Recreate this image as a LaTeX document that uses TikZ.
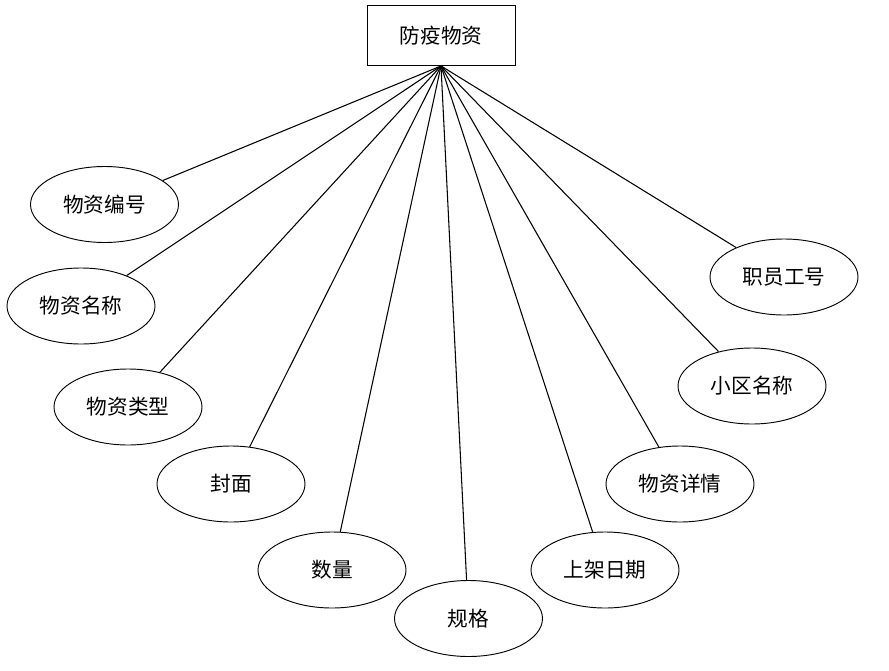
\documentclass[tikz,border=0pt]{standalone}
\usepackage{fontspec}
\newfontfamily\cjk{Noto Sans CJK SC}
\usepackage{tikz}
\usetikzlibrary{shapes.geometric}

\begin{document}
\begin{tikzpicture}[
      x=0.75pt, y=-0.75pt,
      font=\cjk\fontsize{15.5}{18}\selectfont,
      entity/.style={draw, line width=0.7pt, minimum width=111pt, minimum height=45pt, inner sep=0pt},
      attr/.style={draw, ellipse, line width=0.7pt, minimum width=111pt, minimum height=57pt, inner sep=0pt},
      link/.style={line width=0.8pt}
    ]
    \useasboundingbox (0,0) rectangle (889,671);

    % Entity
    \node[entity] (fywz) at (441,35.5) {防疫物资};
    \coordinate (apex) at (fywz.south);

    % Attributes
    \node[attr] (bh)   at (104.5,204.5) {物资编号};
    \node[attr] (mc)   at (81,306)      {物资名称};
    \node[attr] (lx)   at (128,407)     {物资类型};
    \node[attr] (fm)   at (231,484)     {封面};
    \node[attr] (sl)   at (332,570)     {数量};
    \node[attr] (gg)   at (468.5,618.5) {规格};
    \node[attr] (rq)   at (605,570)     {上架日期};
    \node[attr] (xq)   at (680,484)     {物资详情};
    \node[attr] (xqmc) at (752,386)     {小区名称};
    \node[attr] (gh)   at (784,277)     {职员工号};

    % Links
    \draw[link] (apex) -- (bh);
    \draw[link] (apex) -- (mc);
    \draw[link] (apex) -- (lx);
    \draw[link] (apex) -- (fm);
    \draw[link] (apex) -- (sl);
    \draw[link] (apex) -- (gg);
    \draw[link] (apex) -- (rq);
    \draw[link] (apex) -- (xq);
    \draw[link] (apex) -- (xqmc);
    \draw[link] (apex) -- (gh);
  \end{tikzpicture}
\end{document}
